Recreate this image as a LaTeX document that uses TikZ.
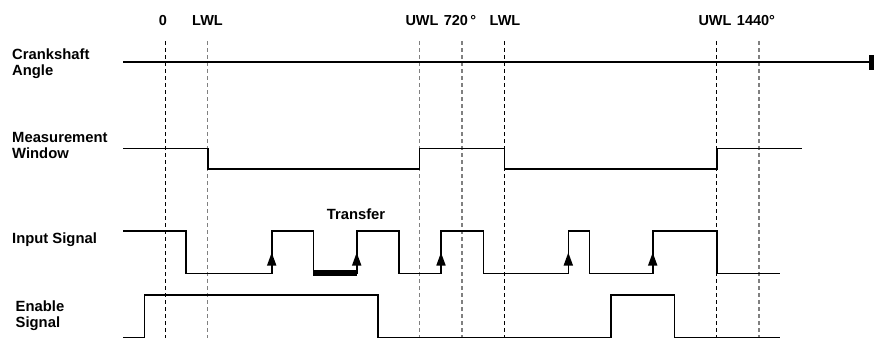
\documentclass[tikz,border=0pt]{standalone}
\usepackage{fontspec}
\setmainfont{Liberation Sans}
\usetikzlibrary{arrows.meta}
\tikzset{
  lbl/.style={font=\bfseries\fontsize{14.8}{16}\selectfont, inner sep=0pt, align=left},
  toplbl/.style={font=\bfseries\fontsize{14.5}{16}\selectfont, inner sep=0pt, anchor=base},
  sig/.style={line width=1.6pt, line join=miter},
  blackdash/.style={line width=1.1pt, dash pattern=on 4pt off 3pt, black},
  graydash/.style={line width=1.4pt, dash pattern=on 4pt off 3pt, black!50},
  edgearrow/.style={line width=1.6pt, -{Triangle[width=9pt,length=13pt]}}
}
\begin{document}
\begin{tikzpicture}[x=1pt,y=-1pt]
\useasboundingbox (0,0) rectangle (874,338);
% top labels
\node[toplbl] (t0) at (163,25) {0};
\node[toplbl] (tl1) at (207.5,25) {LWL};
\node[toplbl] (tu1) at (422,25) {UWL};
\node[toplbl] (t720) at (460,25) {720\,°};
\node[toplbl] (tl2) at (505,25) {LWL};
\node[toplbl] (tu2) at (715,25) {UWL};
\node[toplbl] (t1440) at (756,25) {1440°};
% row labels
\node[lbl, anchor=north west] (lc) at (12,49) {Crankshaft\\Angle};
\node[lbl, anchor=north west] (lm) at (12,132.5) {Measurement\\Window};
\node[lbl, anchor=north west] (li) at (12,233) {Input Signal};
\node[lbl, anchor=north west] (le) at (15.5,301) {Enable\\Signal};
% dashed markers
\draw[blackdash] (165.5,41) -- (165.5,338);
\draw[graydash] (207.7,41) -- (207.7,338);
\draw[graydash] (419.3,41) -- (419.3,338);
\draw[graydash] (462,41) -- (462,338);
\draw[blackdash] (504.3,41) -- (504.3,338);
\draw[blackdash] (716.7,41) -- (716.7,338);
\draw[graydash] (759,41) -- (759,338);
% crankshaft axis
\draw[line width=1.8pt] (123,62.3) -- (870,62.3);
\fill (869,55) rectangle (874,70);
% measurement window
\draw[sig] (123,148.3) -- (207.7,148.3) -- (207.7,169) -- (419.3,169) -- (419.3,148.3)
  -- (504.3,148.3) -- (504.3,169) -- (716.7,169) -- (716.7,148.3) -- (801.7,148.3);
% input signal
\draw[sig] (123,231) -- (186,231) -- (186,273.3) -- (271.7,273.3) -- (271.7,231)
  -- (313.3,231) -- (313.3,273.3) -- (356.7,273.3) -- (356.7,231) -- (399,231)
  -- (399,273.3) -- (441,273.3) -- (441,231) -- (483.3,231) -- (483.3,273.3)
  -- (568.3,273.3) -- (568.3,231) -- (589.3,231) -- (589.3,273.3) -- (652.7,273.3)
  -- (652.7,231) -- (716.7,231) -- (716.7,273.3) -- (780,273.3);
\fill (313.3,270) rectangle (356.7,275.5);
\node[lbl, anchor=base] (tr) at (356,219) {Transfer};
% rising-edge arrows
\draw[edgearrow] (271.7,272) -- (271.7,252.5);
\draw[edgearrow] (356.7,272) -- (356.7,252.5);
\draw[edgearrow] (441,272) -- (441,252.5);
\draw[edgearrow] (568.3,272) -- (568.3,252.5);
\draw[edgearrow] (652.7,272) -- (652.7,252.5);
% enable signal
\draw[sig] (123,337.3) -- (144.3,337.3) -- (144.3,295) -- (377.7,295) -- (377.7,337.3)
  -- (610.7,337.3) -- (610.7,295) -- (674.3,295) -- (674.3,337.3) -- (780,337.3);
\end{tikzpicture}
\end{document}
